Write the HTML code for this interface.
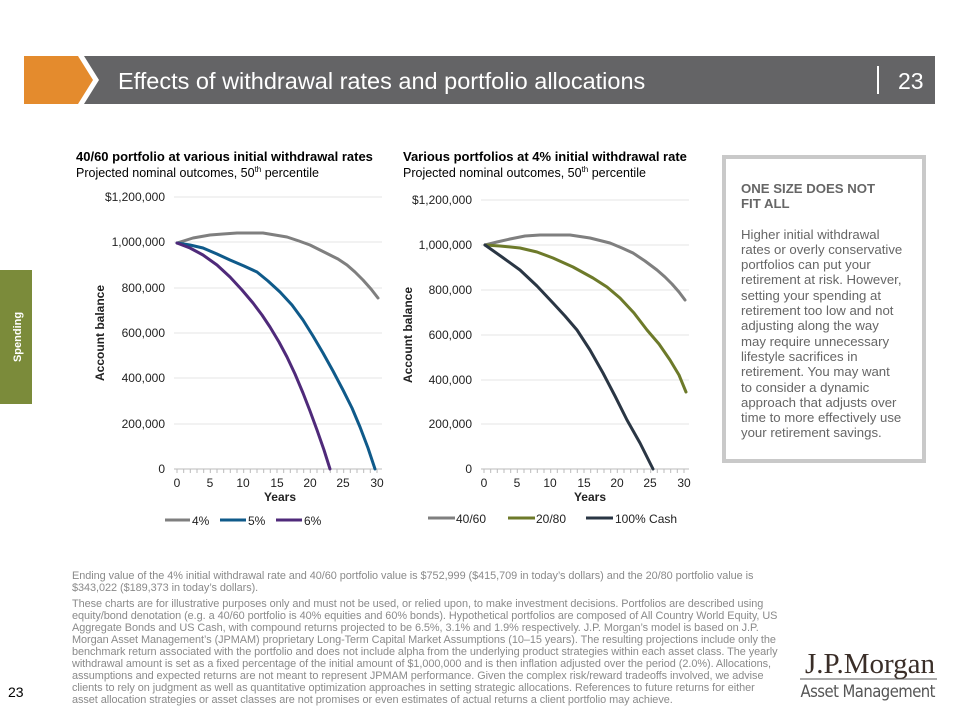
<!DOCTYPE html>
<html><head><meta charset="utf-8"><style>
body{margin:0;width:960px;height:720px;position:relative;background:#fff;font-family:"Liberation Sans",Arial,sans-serif;overflow:hidden}
.a{position:absolute}
.side p{margin:0}
.fn{color:#8a8a8a;font-size:10.9px;line-height:12px;white-space:nowrap;letter-spacing:-0.05px}
</style></head><body>
<svg class="a" style="left:0;top:0" width="960" height="720">
<polygon points="24,56 78,56 93,80 78,104 24,104" fill="#e48b2d"/>
<polygon points="84,56 935,56 935,104 84,104 99,80" fill="#646466"/>
<text x="118" y="89" fill="#fff" font-size="23.5" font-family="Liberation Sans">Effects of withdrawal rates and portfolio allocations</text>
<line x1="878" y1="66" x2="878" y2="94" stroke="#fff" stroke-width="2"/>
<text x="898" y="89" fill="#fff" font-size="23" font-family="Liberation Sans">23</text>
<rect x="0" y="270" width="32" height="134" fill="#7b8b3a"/>
<text transform="translate(21,337) rotate(-90)" text-anchor="middle" fill="#fff" font-size="11" font-weight="bold" font-family="Liberation Sans">Spending</text>
<g font-family="Liberation Sans" font-size="12" fill="#222">
<g stroke="#e6e6e6" stroke-width="1">
<line x1="174" y1="197" x2="382" y2="197"/><line x1="174" y1="242" x2="382" y2="242"/><line x1="174" y1="288" x2="382" y2="288"/><line x1="174" y1="333" x2="382" y2="333"/><line x1="174" y1="378" x2="382" y2="378"/><line x1="174" y1="424" x2="382" y2="424"/>
<line x1="481" y1="200" x2="689" y2="200"/><line x1="481" y1="245" x2="689" y2="245"/><line x1="481" y1="290" x2="689" y2="290"/><line x1="481" y1="335" x2="689" y2="335"/><line x1="481" y1="380" x2="689" y2="380"/><line x1="481" y1="424" x2="689" y2="424"/>
</g>
<line x1="174" y1="469" x2="382" y2="469" stroke="#bbb"/>
<line x1="481" y1="469" x2="689" y2="469" stroke="#bbb"/>
<path d="M177,469v4M183.7,469v4M190.3,469v4M197,469v4M203.7,469v4M210.3,469v4M217,469v4M223.7,469v4M230.3,469v4M237,469v4M243.7,469v4M250.3,469v4M257,469v4M263.7,469v4M270.3,469v4M277,469v4M283.7,469v4M290.3,469v4M297,469v4M303.7,469v4M310.3,469v4M317,469v4M323.7,469v4M330.3,469v4M337,469v4M343.7,469v4M350.3,469v4M357,469v4M363.7,469v4M370.3,469v4M377,469v4" stroke="#bbb"/>
<path d="M484,469v4M490.7,469v4M497.3,469v4M504,469v4M510.7,469v4M517.3,469v4M524,469v4M530.7,469v4M537.3,469v4M544,469v4M550.7,469v4M557.3,469v4M564,469v4M570.7,469v4M577.3,469v4M584,469v4M590.7,469v4M597.3,469v4M604,469v4M610.7,469v4M617.3,469v4M624,469v4M630.7,469v4M637.3,469v4M644,469v4M650.7,469v4M657.3,469v4M664,469v4M670.7,469v4M677.3,469v4M684,469v4" stroke="#bbb"/>
<g text-anchor="end">
<text x="165" y="201">$1,200,000</text><text x="165" y="246">1,000,000</text><text x="165" y="292">800,000</text><text x="165" y="337">600,000</text><text x="165" y="382">400,000</text><text x="165" y="428">200,000</text><text x="165" y="473">0</text>
<text x="472" y="204">$1,200,000</text><text x="472" y="249">1,000,000</text><text x="472" y="294">800,000</text><text x="472" y="339">600,000</text><text x="472" y="384">400,000</text><text x="472" y="428">200,000</text><text x="472" y="473">0</text>
</g>
<g text-anchor="middle">
<text x="177" y="487">0</text><text x="210" y="487">5</text><text x="243" y="487">10</text><text x="277" y="487">15</text><text x="310" y="487">20</text><text x="343" y="487">25</text><text x="377" y="487">30</text>
<text x="484" y="487">0</text><text x="517" y="487">5</text><text x="550" y="487">10</text><text x="584" y="487">15</text><text x="617" y="487">20</text><text x="650" y="487">25</text><text x="684" y="487">30</text>
<text x="280" y="501" font-weight="bold">Years</text><text x="590" y="501" font-weight="bold">Years</text>
<text transform="translate(104,333) rotate(-90)" font-weight="bold">Account balance</text>
<text transform="translate(412,335) rotate(-90)" font-weight="bold">Account balance</text>
</g>
<g fill="none" stroke-width="3" stroke-linejoin="round" stroke-linecap="round">
<polyline points="177,243 193,238 210,235 223,234 237,233 250,233 263,233 275,235 287,237 299,241 310,245 320,250 330,255 338,259 347,265 355,272 363,280 371,289 378,298" stroke="#7f7f7f"/>
<polyline points="177,243 190,245 203,248 217,254 230,260 244,266 257,272 268,281 280,292 292,305 303,320 313,336 323,353 333,371 343,390 352,408 360,427 368,448 375,469" stroke="#0f5a8a"/>
<polyline points="177,243 190,248 203,255 217,265 230,277 242,290 253,303 262,315 270,327 279,342 287,357 295,374 303,393 310,411 317,430 324,450 330,469" stroke="#4f2a7a"/>
<polyline points="485,245 497,242 510,239 525,236 540,235 555,235 570,235 590,238 610,243 622,248 633,253 645,261 657,270 665,277 672,284 679,292 685,300" stroke="#7f7f7f"/>
<polyline points="485,245 500,246 520,248 537,252 553,258 573,267 593,278 607,287 620,298 634,313 647,330 659,344 670,360 679,375 686,392" stroke="#6d7a2a"/>
<polyline points="485,245 502,257 520,270 537,286 553,303 565,316 577,330 590,350 603,373 615,396 627,420 640,443 653,469" stroke="#2a3644"/>
</g>
<g stroke-width="3">
<line x1="165" y1="520" x2="190" y2="520" stroke="#7f7f7f"/><line x1="220" y1="520" x2="246" y2="520" stroke="#0f5a8a"/><line x1="276" y1="520" x2="302" y2="520" stroke="#4f2a7a"/>
<line x1="428" y1="518" x2="455" y2="518" stroke="#7f7f7f"/><line x1="508" y1="518" x2="535" y2="518" stroke="#6d7a2a"/><line x1="586" y1="518" x2="613" y2="518" stroke="#2a3644"/>
</g>
<text x="192" y="525">4%</text><text x="248" y="525">5%</text><text x="304" y="525">6%</text>
<text x="456" y="523">40/60</text><text x="536" y="523">20/80</text><text x="615" y="523">100% Cash</text>
</g>
<text x="76" y="161" font-size="13" font-weight="bold" font-family="Liberation Sans" fill="#000">40/60 portfolio at various initial withdrawal rates</text>
<text x="76" y="177" font-size="12.5" font-family="Liberation Sans" fill="#000">Projected nominal outcomes, 50<tspan font-size="8" dy="-5">th</tspan><tspan dy="5"> percentile</tspan></text>
<text x="403" y="161" font-size="13" font-weight="bold" font-family="Liberation Sans" fill="#000">Various portfolios at 4% initial withdrawal rate</text>
<text x="403" y="177" font-size="12.5" font-family="Liberation Sans" fill="#000">Projected nominal outcomes, 50<tspan font-size="8" dy="-5">th</tspan><tspan dy="5"> percentile</tspan></text>
<text x="8" y="697" font-size="14" font-family="Liberation Sans" fill="#000">23</text>
<text x="870" y="673" text-anchor="middle" font-size="29" font-family="Liberation Serif" fill="#3a2e28">J.P.Morgan</text>
<line x1="800" y1="679" x2="937" y2="679" stroke="#555"/>
<text x="868" y="697" text-anchor="middle" font-size="16.5" font-family="DejaVu Sans Condensed,Liberation Sans Narrow,sans-serif" fill="#555" textLength="135">Asset Management</text>
</svg>
<div class="a side" style="left:722px;top:155px;width:196px;height:300px;border:4px solid #c9c9c9;color:#666;font-size:13.2px;line-height:15.3px;white-space:nowrap">
<p style="margin:22px 0 0 15px;font-weight:bold">ONE SIZE DOES NOT<br>FIT ALL</p>
<p style="margin:15px 0 0 15px">Higher initial withdrawal<br>rates or overly conservative<br>portfolios can put your<br>retirement at risk. However,<br>setting your spending at<br>retirement too low and not<br>adjusting along the way<br>may require unnecessary<br>lifestyle sacrifices in<br>retirement. You may want<br>to consider a dynamic<br>approach that adjusts over<br>time to more effectively use<br>your retirement savings.</p>
</div>
<div class="a fn" style="left:72px;top:570px">Ending value of the 4% initial withdrawal rate and 40/60 portfolio value is $752,999 ($415,709 in today’s dollars) and the 20/80 portfolio value is<br>$343,022 ($189,373 in today’s dollars).</div>
<div class="a fn" style="left:72px;top:598px">These charts are for illustrative purposes only and must not be used, or relied upon, to make investment decisions. Portfolios are described using<br>equity/bond denotation (e.g. a 40/60 portfolio is 40% equities and 60% bonds). Hypothetical portfolios are composed of All Country World Equity, US<br>Aggregate Bonds and US Cash, with compound returns projected to be 6.5%, 3.1% and 1.9% respectively. J.P. Morgan’s model is based on J.P.<br>Morgan Asset Management’s (JPMAM) proprietary Long-Term Capital Market Assumptions (10–15 years). The resulting projections include only the<br>benchmark return associated with the portfolio and does not include alpha from the underlying product strategies within each asset class. The yearly<br>withdrawal amount is set as a fixed percentage of the initial amount of $1,000,000 and is then inflation adjusted over the period (2.0%). Allocations,<br>assumptions and expected returns are not meant to represent JPMAM performance. Given the complex risk/reward tradeoffs involved, we advise<br>clients to rely on judgment as well as quantitative optimization approaches in setting strategic allocations. References to future returns for either<br>asset allocation strategies or asset classes are not promises or even estimates of actual returns a client portfolio may achieve.</div>
</body></html>
